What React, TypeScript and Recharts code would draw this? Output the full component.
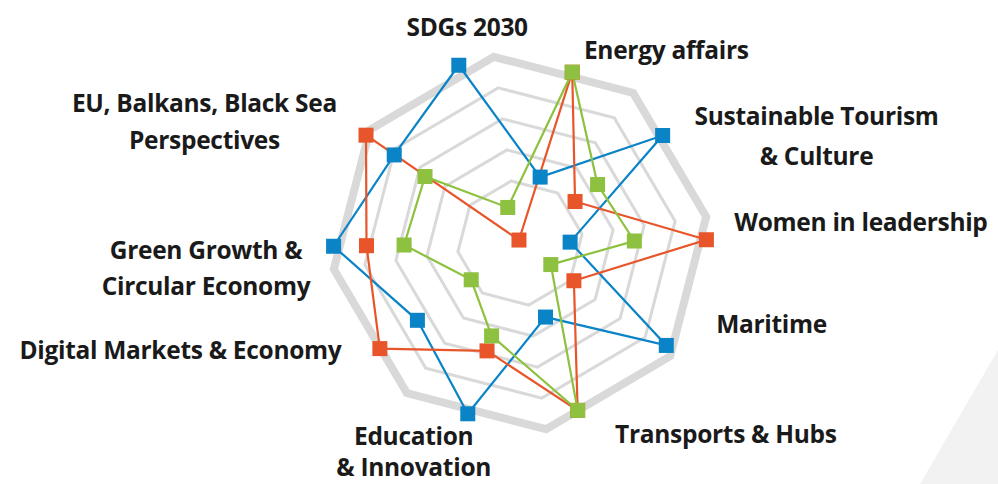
import { RadarChart, Radar, PolarGrid, PolarAngleAxis, PolarRadiusAxis } from 'recharts';

const subjects = [
  'SDGs 2030',
  'Energy affairs',
  'Sustainable Tourism & Culture',
  'Women in leadership',
  'Maritime',
  'Transports & Hubs',
  'Education & Innovation',
  'Digital Markets & Economy',
  'Green Growth & Circular Economy',
  'EU, Balkans, Black Sea Perspectives',
];

const labelLines = [
  ['SDGs 2030'],
  ['Energy affairs'],
  ['Sustainable Tourism', '& Culture'],
  ['Women in leadership'],
  ['Maritime'],
  ['Transports & Hubs'],
  ['Education', '& Innovation'],
  ['Digital Markets & Economy'],
  ['Green Growth &', 'Circular Economy'],
  ['EU, Balkans, Black Sea', 'Perspectives'],
];

const blueValues = [6.0, 2.2, 5.7, 1.6, 5.7, 2.5, 5.7, 4.1, 5.95, 4.9];
const orangeValues = [0.1, 5.7, 2.2, 5.95, 2.1, 5.65, 3.6, 5.6, 4.9, 6.0];
const greenValues = [1.2, 5.7, 3.1, 3.65, 1.2, 5.65, 3.1, 1.95, 3.7, 3.7];

const data = subjects.map((s, i) => ({
  subject: s,
  blue: blueValues[i],
  orange: orangeValues[i],
  green: greenValues[i],
}));

// label placement relative to the axis tick point
const labelOffsets = [
  { dx: 11, dy: -31, gap: 37 },
  { dx: 89, dy: -6, gap: 37 },
  { dx: 140, dy: -10, gap: 40 },
  { dx: 145, dy: -18, gap: 37 },
  { dx: 91, dy: -32, gap: 37 },
  { dx: 142, dy: 5, gap: 37 },
  { dx: -49, dy: 5, gap: 31 },
  { dx: -183, dy: -11, gap: 37 },
  { dx: -118, dy: 3, gap: 36 },
  { dx: -155, dy: -28, gap: 37 },
];

const CX = 520;
const CY = 243;
const R = 188;
const octagon = [98, 53, 8, -37, -82, -127, -172, -217];
const innerRings = [2 / 6, 3 / 6, 4 / 6, 5 / 6].map((f) => f * R);

const AxisLabel = (props: any) => {
  const { x, y, index } = props;
  const o = labelOffsets[index];
  return (
    <g>
      {labelLines[index].map((line, k) => (
        <text
          key={k}
          x={x + o.dx}
          y={y + o.dy + k * o.gap}
          textAnchor="middle"
          dominantBaseline="central"
          fontFamily="'Open Sans', sans-serif"
          fontWeight={700}
          fontSize={24.5}
          letterSpacing={-0.3}
          fill="#1a1a1a"
        >
          {line}
        </text>
      ))}
    </g>
  );
};

const square = (color: string) => (p: any) => (
  <rect key={p.index} x={p.cx - 7.5} y={p.cy - 7.5} width={15} height={15} fill={color} />
);

export default function App() {
  return (
    <div
      style={{
        position: 'fixed',
        left: 0,
        top: 0,
        width: 998,
        height: 484,
        overflow: 'hidden',
        background: '#fff',
      }}
    >
      <svg width={998} height={484} style={{ position: 'absolute', left: 0, top: 0 }}>
        <polygon points="920,484 998,350 998,484" fill="#f2f2f2" />
      </svg>
      <div style={{ position: 'absolute', left: 0, top: 0 }}>
        <RadarChart
          width={998}
          height={484}
          data={data}
          cx={CX}
          cy={CY}
          outerRadius={R}
          startAngle={109}
          endAngle={-251}
        >
          <PolarGrid
            gridType="polygon"
            radialLines={false}
            polarAngles={octagon}
            polarRadius={innerRings}
            stroke="#d9d9d9"
            strokeWidth={3}
          />
          <PolarGrid
            gridType="polygon"
            radialLines={false}
            polarAngles={octagon}
            polarRadius={[R]}
            stroke="#d9d9d9"
            strokeWidth={8}
          />
          <PolarAngleAxis dataKey="subject" tick={AxisLabel} tickLine={false} axisLine={false} />
          <PolarRadiusAxis domain={[0, 6]} tick={false} axisLine={false} />
          <Radar
            dataKey="blue"
            stroke="#0a84c6"
            strokeWidth={2.2}
            fill="none"
            fillOpacity={0}
            dot={square('#0a84c6')}
            isAnimationActive={false}
          />
          <Radar
            dataKey="orange"
            stroke="#e8552a"
            strokeWidth={2.2}
            fill="none"
            fillOpacity={0}
            dot={square('#e8552a')}
            isAnimationActive={false}
          />
          <Radar
            dataKey="green"
            stroke="#8dc13f"
            strokeWidth={2.2}
            fill="none"
            fillOpacity={0}
            dot={square('#8dc13f')}
            isAnimationActive={false}
          />
        </RadarChart>
      </div>
    </div>
  );
}
